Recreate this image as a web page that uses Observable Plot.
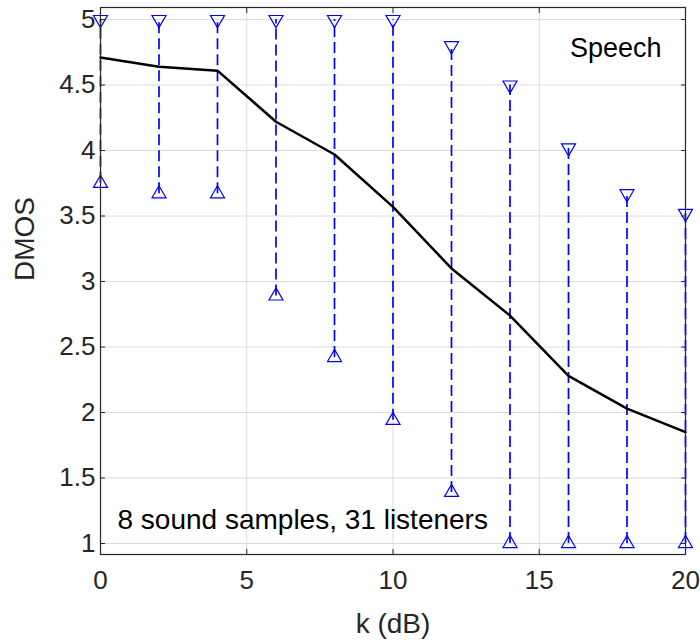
<!DOCTYPE html>
<html>
<head>
<meta charset="utf-8">
<script src="https://cdn.jsdelivr.net/npm/d3@7"></script>
<script src="https://cdn.jsdelivr.net/npm/@observablehq/plot@0.6"></script>
<style>
  body { margin: 0; background: #fff; }
  #chart svg { display: block; }
</style>
</head>
<body>
<div id="chart"></div>
<script>
// Attenuation k (dB) and DMOS statistics per condition
const k = [0, 2, 4, 6, 8, 10, 12, 14, 16, 18, 20];
const meanDMOS = [4.71, 4.64, 4.61, 4.22, 3.97, 3.57, 3.10, 2.74, 2.28, 2.03, 1.85];
const minDMOS = [3.75, 3.67, 3.67, 2.89, 2.42, 1.94, 1.39, 1.0, 1.0, 1.0, 1.0];
const maxDMOS = [5.0, 5.0, 5.0, 5.0, 5.0, 5.0, 4.8, 4.5, 4.02, 3.67, 3.52];

const xTicks = [0, 5, 10, 15, 20];
const yTicks = [1, 1.5, 2, 2.5, 3, 3.5, 4, 4.5, 5];

const panelLabel = "Speech";
const noteLabel = "8 sound samples, 31 listeners";
const xLabel = "k (dB)";
const yLabel = "DMOS";

const rows = k.map((v, i) => ({k: v, mean: meanDMOS[i], min: minDMOS[i], max: maxDMOS[i]}));

const blue = "#0000ff";
const ink = "#262626";
const font = "'Liberation Sans', Arial, Helvetica, sans-serif";
const tickText = d3.format("~g");

const chart = Plot.plot({
  width: 700,
  height: 641,
  marginLeft: 100,
  marginRight: 15,
  marginTop: 7,
  marginBottom: 87,
  style: {fontFamily: font, fontSize: "26px", color: ink, background: "#fff"},
  x: {domain: [0, 20]},
  y: {domain: [0.916, 5.092]},
  marks: [
    Plot.gridX(xTicks, {stroke: "#dcdcdc", strokeOpacity: 1}),
    Plot.gridY(yTicks, {stroke: "#dcdcdc", strokeOpacity: 1}),
    Plot.ruleX(rows, {x: "k", y1: "min", y2: "max", stroke: blue, strokeWidth: 1.7, strokeDasharray: "11,5"}),
    Plot.line(rows, {x: "k", y: "mean", stroke: "#000", strokeWidth: 2.5}),
    Plot.dot(rows, {x: "k", y: "max", symbol: "triangle", rotate: 180, r: 5.2, stroke: blue, strokeWidth: 1.2, fill: "none"}),
    Plot.dot(rows, {x: "k", y: "min", symbol: "triangle", r: 5.2, stroke: blue, strokeWidth: 1.2, fill: "none"}),
    Plot.frame({stroke: ink, strokeWidth: 1.2}),
    // inward ticks on all four sides
    Plot.axisX(xTicks, {anchor: "bottom", tickSize: -5, tickPadding: 21, tickFormat: tickText, label: null, fontSize: 26, stroke: ink}),
    Plot.axisX(xTicks, {anchor: "top", tickSize: -5, text: null, label: null, stroke: ink}),
    Plot.axisY(yTicks, {anchor: "left", tickSize: -5, tickPadding: 10, tickFormat: tickText, label: null, fontSize: 26, stroke: ink}),
    Plot.axisY(yTicks, {anchor: "right", tickSize: -5, text: null, label: null, stroke: ink}),
    Plot.text([xLabel], {frameAnchor: "bottom", lineAnchor: "middle", dy: 70, fontSize: 28, fill: ink}),
    Plot.text([yLabel], {frameAnchor: "left", lineAnchor: "middle", dx: -75, rotate: -90, fontSize: 28, fill: ink}),
    Plot.text([panelLabel], {frameAnchor: "top-right", lineAnchor: "middle", textAnchor: "end", dx: -24, dy: 41, fontSize: 27, fill: "#000"}),
    Plot.text([noteLabel], {frameAnchor: "bottom-left", lineAnchor: "middle", textAnchor: "start", dx: 17, dy: -34, fontSize: 28, fill: "#000"})
  ]
});

document.getElementById("chart").appendChild(chart);
</script>
</body>
</html>
